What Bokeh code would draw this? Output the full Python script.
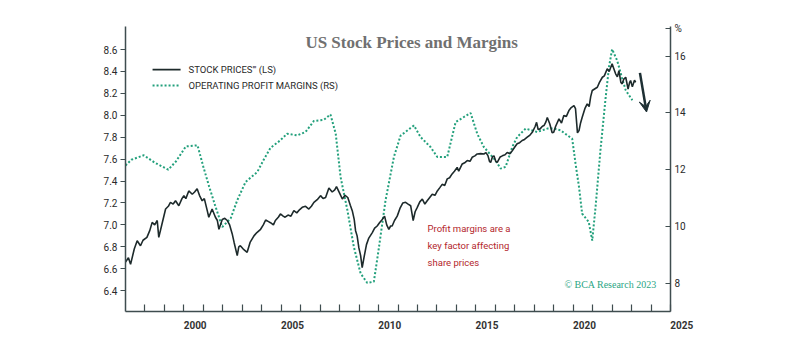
from bokeh.plotting import figure
from bokeh.models import Range1d, LinearAxis, FixedTicker, Label, Arrow, VeeHead
from bokeh.embed import file_html
from bokeh.resources import INLINE
from bokeh.core.properties import value

# ---------------- data ----------------
stock_x = [1997.0, 1997.15, 1997.26, 1997.45, 1997.6, 1997.77, 1997.9, 1998.1, 1998.25, 1998.37,
           1998.5, 1998.63, 1998.71, 1998.85, 1999.06, 1999.2, 1999.31, 1999.45, 1999.57, 1999.74,
           1999.9, 2000.0, 2000.1, 2000.25, 2000.43, 2000.55, 2000.68, 2000.8, 2000.94, 2001.05,
           2001.2, 2001.28, 2001.45, 2001.62, 2001.72, 2001.8, 2001.97, 2002.1, 2002.23, 2002.35,
           2002.48, 2002.58, 2002.74, 2002.82, 2002.9, 2003.05, 2003.25, 2003.4, 2003.6, 2003.75,
           2003.94, 2004.08, 2004.2, 2004.35, 2004.45, 2004.6, 2004.7, 2004.85, 2004.96, 2005.1,
           2005.2, 2005.35, 2005.5, 2005.65, 2005.8, 2005.95, 2006.08, 2006.25, 2006.42, 2006.55,
           2006.68, 2006.85, 2007.02, 2007.15, 2007.28, 2007.45, 2007.62, 2007.75, 2007.84, 2008.0,
           2008.14, 2008.28, 2008.42, 2008.55, 2008.65, 2008.75, 2008.82, 2008.9, 2008.99, 2009.08,
           2009.16, 2009.25, 2009.38, 2009.5, 2009.68, 2009.8, 2009.93, 2010.05, 2010.19, 2010.31,
           2010.42, 2010.53, 2010.62, 2010.7, 2010.82, 2010.96, 2011.1, 2011.25, 2011.39, 2011.52,
           2011.65, 2011.78, 2011.88, 2011.99, 2012.12, 2012.25, 2012.38, 2012.5, 2012.63, 2012.76,
           2012.9, 2013.02, 2013.15, 2013.27, 2013.4, 2013.53, 2013.65, 2013.78, 2013.9, 2014.04,
           2014.12, 2014.3, 2014.45, 2014.56, 2014.7, 2014.81, 2014.95, 2015.07, 2015.25, 2015.41,
           2015.52, 2015.62, 2015.7, 2015.76, 2015.85, 2015.93, 2016.02, 2016.1, 2016.25, 2016.36,
           2016.5, 2016.61, 2016.75, 2016.87, 2017.0, 2017.12, 2017.25, 2017.38, 2017.5, 2017.64,
           2017.78, 2017.9, 2018.05, 2018.12, 2018.2, 2018.3, 2018.42, 2018.5, 2018.6, 2018.67,
           2018.8, 2018.92, 2019.0, 2019.1, 2019.27, 2019.4, 2019.52, 2019.65, 2019.78, 2019.9,
           2020.04, 2020.12, 2020.22, 2020.3, 2020.38, 2020.46, 2020.6, 2020.72, 2020.82, 2020.9,
           2020.98, 2021.1, 2021.24, 2021.35, 2021.5, 2021.6, 2021.75, 2021.85, 2022.0, 2022.08,
           2022.18, 2022.27, 2022.35, 2022.45, 2022.52, 2022.6, 2022.7, 2022.82, 2022.9, 2022.95,
           2023.04, 2023.09, 2023.15, 2023.21]
stock_y = [6.66, 6.70, 6.64, 6.78, 6.855, 6.81, 6.86, 6.886, 6.95, 7.023,
           7.00, 7.04, 6.886, 6.99, 7.145, 7.17, 7.206, 7.19, 7.22, 7.175,
           7.24, 7.267, 7.24, 7.31, 7.28, 7.30, 7.33, 7.27, 7.22, 7.24,
           7.13, 7.07, 7.145, 7.07, 7.04, 6.96, 7.05, 7.06, 7.04, 7.00,
           6.92, 6.84, 6.72, 6.80, 6.81, 6.78, 6.75, 6.84, 6.90, 6.93,
           6.96, 7.00, 7.045, 7.03, 7.02, 7.00, 7.04, 7.07, 7.10, 7.08,
           7.07, 7.09, 7.08, 7.13, 7.11, 7.14, 7.16, 7.17, 7.145, 7.17,
           7.205, 7.23, 7.267, 7.24, 7.25, 7.337, 7.30, 7.32, 7.35, 7.29,
           7.236, 7.27, 7.25, 7.18, 7.13, 7.05, 6.947, 6.90, 6.79, 6.72,
           6.61, 6.70, 6.82, 6.88, 6.93, 6.97, 6.99, 7.02, 7.05, 7.08,
           7.00, 6.96, 6.99, 6.99, 7.04, 7.08, 7.15, 7.20, 7.206, 7.19,
           7.175, 7.04, 7.12, 7.16, 7.21, 7.236, 7.19, 7.22, 7.25, 7.28,
           7.27, 7.31, 7.34, 7.37, 7.36, 7.42, 7.43, 7.465, 7.49, 7.525,
           7.49, 7.556, 7.57, 7.587, 7.58, 7.617, 7.63, 7.647, 7.65, 7.647,
           7.66, 7.632, 7.58, 7.57, 7.62, 7.63, 7.58, 7.57, 7.62, 7.63,
           7.64, 7.66, 7.65, 7.677, 7.71, 7.74, 7.75, 7.77, 7.78, 7.80,
           7.82, 7.845, 7.90, 7.936, 7.87, 7.876, 7.90, 7.906, 7.94, 7.98,
           7.92, 7.84, 7.845, 7.90, 7.967, 7.93, 7.997, 7.99, 8.043, 8.07,
           8.088, 8.06, 7.84, 7.86, 7.93, 7.98, 8.06, 8.104, 8.08, 8.17,
           8.226, 8.24, 8.256, 8.30, 8.347, 8.36, 8.424, 8.40, 8.47, 8.43,
           8.378, 8.35, 8.408, 8.30, 8.287, 8.33, 8.347, 8.24, 8.30, 8.317,
           8.26, 8.287, 8.32, 8.30]

margin_x = [1997.0, 1997.3, 1997.94, 1998.5, 1999.2, 1999.6, 2000.1, 2000.7, 2001.0, 2001.3,
            2001.6, 2001.97, 2002.4, 2002.74, 2003.17, 2003.77, 2004.1, 2004.45, 2004.96, 2005.3,
            2005.82, 2006.25, 2006.68, 2007.19, 2007.53, 2007.8, 2008.05, 2008.4, 2008.73, 2009.08,
            2009.42, 2009.76, 2010.0, 2010.36, 2010.79, 2011.13, 2011.82, 2012.16, 2012.67, 2013.02,
            2013.53, 2013.96, 2014.73, 2015.07, 2015.41, 2016.01, 2016.27, 2016.53, 2016.87, 2017.12,
            2017.56, 2018.15, 2018.67, 2019.0, 2019.35, 2019.95, 2020.12, 2020.3, 2020.46, 2020.8,
            2020.98, 2021.15, 2021.4, 2021.67, 2021.84, 2022.0, 2022.26, 2022.5, 2022.7, 2023.04]
margin_y = [12.15, 12.35, 12.51, 12.25, 12.0, 12.3, 12.82, 12.86, 12.1, 11.4,
            10.75, 9.98, 10.28, 10.92, 11.57, 11.92, 12.35, 12.77, 13.04, 13.27,
            13.21, 13.33, 13.72, 13.76, 13.95, 13.27, 11.74, 10.57, 9.28, 8.34,
            8.01, 8.05, 9.16, 10.92, 12.45, 13.2, 13.56, 13.15, 12.8, 12.45,
            12.45, 13.68, 14.0, 13.27, 12.8, 12.33, 12.04, 12.1, 12.8, 13.15,
            13.45, 13.33, 13.45, 13.45, 13.39, 13.09, 12.22, 11.39, 10.45, 10.16,
            9.5, 10.69, 12.68, 14.56, 15.62, 16.25, 15.85, 15.26, 14.8, 14.45]

left_ticks = [6.4, 6.6, 6.8, 7.0, 7.2, 7.4, 7.6, 7.8, 8.0, 8.2, 8.4, 8.6]
left_labels = ["6.4", "6.6", "6.8", "7.0", "7.2", "7.4", "7.6", "7.8", "8.0", "8.2", "8.4", "8.6"]
right_ticks = [8, 10, 12, 14, 16, 16.98]
right_labels = ["8", "10", "12", "14", "16", "%"]
year_ticks = list(range(1998, 2026))
year_labels = ["2000", "2005", "2010", "2015", "2020", "2025"]
year_label_pos = [2000, 2005, 2010, 2015, 2020, 2025]

title_text = "US Stock Prices and Margins"
legend_labels = ["STOCK PRICES''' (LS)", "OPERATING PROFIT MARGINS (RS)"]
note_lines = ["Profit margins are a", "key factor affecting", "share prices"]
credit_text = "\u00a9 BCA Research 2023"

# ---------------- styles ----------------
AXIS_C = "#3f4d4f"
TEXT_C = "#2a2a2a"
STOCK_C = "#1d2a2b"
MARGIN_C = "#23a07c"
NOTE_C = "#b3262c"
SANS = "Roboto"
PAD = "\u2007" * 4  # figure spaces: centre each year label in its year, as in the reference

p = figure(width=800, height=357, output_backend="svg", toolbar_location=None,
           x_range=Range1d(1997, 2025), y_range=Range1d(6.21, 8.81),
           min_border_left=125, min_border_right=130, min_border_top=26, min_border_bottom=46,
           background_fill_color="white", border_fill_color="white")
p.outline_line_color = None
p.grid.visible = False
p.extra_y_ranges = {"m": Range1d(7.0, 17.05)}

# left axis
ya = p.yaxis[0]
ya.ticker = FixedTicker(ticks=left_ticks)
ya.major_label_overrides = {t: l for t, l in zip(left_ticks, left_labels)}
ya.axis_line_color = AXIS_C
ya.axis_line_width = 1.5
ya.major_tick_line_color = AXIS_C
ya.major_tick_line_width = 1.2
ya.major_tick_out = 5
ya.major_tick_in = 0
ya.minor_tick_line_color = None
ya.major_label_text_font = SANS
ya.major_label_text_font_size = "10px"
ya.major_label_text_color = TEXT_C
ya.major_label_standoff = 3

# right axis
ra = LinearAxis(y_range_name="m", ticker=FixedTicker(ticks=right_ticks),
                major_label_overrides={t: l for t, l in zip(right_ticks, right_labels)})
ra.axis_line_color = AXIS_C
ra.axis_line_width = 1.5
ra.major_tick_line_color = AXIS_C
ra.major_tick_line_width = 1.2
ra.major_tick_out = 0
ra.major_tick_in = 5
ra.minor_tick_line_color = None
ra.major_label_text_font = SANS
ra.major_label_text_font_size = "10px"
ra.major_label_text_color = TEXT_C
ra.major_label_standoff = 4
p.add_layout(ra, "right")

# bottom axis: a tick at every year, labels every 5 years centred within the year
overrides = {t: "" for t in year_ticks}
for yr, lab in zip(year_label_pos, year_labels):
    overrides[yr] = PAD + lab
xa = p.xaxis[0]
xa.ticker = FixedTicker(ticks=year_ticks)
xa.major_label_overrides = overrides
xa.axis_line_color = AXIS_C
xa.axis_line_width = 1.5
xa.major_tick_line_color = AXIS_C
xa.major_tick_line_width = 1.2
xa.major_tick_out = 0
xa.major_tick_in = 7
xa.minor_tick_line_color = None
xa.major_label_text_font = SANS
xa.major_label_text_font_size = "10px"
xa.major_label_text_font_style = "bold"
xa.major_label_text_color = "#333333"
xa.major_label_standoff = 8

# series
p.line(margin_x, margin_y, y_range_name="m", line_color=MARGIN_C, line_width=2, line_dash="2 2")
p.line(stock_x, stock_y, line_color=STOCK_C, line_width=1.6)

# title
p.add_layout(Label(x=2011.7, y=8.664, text=title_text, text_align="center", text_baseline="middle",
                   text_font="Liberation Serif", text_font_style="bold", text_font_size="17px",
                   text_color="#707070"))

# legend
p.segment(x0=[1998.39], y0=[8.417], x1=[1999.83], y1=[8.417], line_color=STOCK_C, line_width=1.6)
p.segment(x0=[1998.39], y0=[8.271], x1=[1999.83], y1=[8.271], line_color=MARGIN_C, line_width=2,
          line_dash="2 2")
p.text(x=[2000.24, 2000.24], y=[8.417, 8.271], text=legend_labels, text_font=value(SANS),
       text_font_size="9.5px", text_color=TEXT_C, text_baseline="middle", text_align="left")

# note
p.text(x=[2012.52] * 3, y=[6.965, 6.81, 6.655], text=note_lines, text_font=value(SANS),
       text_font_size="9.5px", text_color=NOTE_C, text_baseline="middle", text_align="left")

# credit
p.text(x=[2024.29], y=[6.454], text=[credit_text], text_font=value("Liberation Serif"),
       text_font_size="10px", text_color="#2aa584", text_baseline="middle", text_align="right")

# arrow
p.add_layout(Arrow(x_start=2023.43, y_start=8.387, x_end=2023.77, y_end=8.03,
                   line_color="#1e3034", line_width=2.5,
                   end=VeeHead(size=11, fill_color="#1e3034", line_color="#1e3034")))

open("out.html", "w").write(file_html(p, INLINE))
